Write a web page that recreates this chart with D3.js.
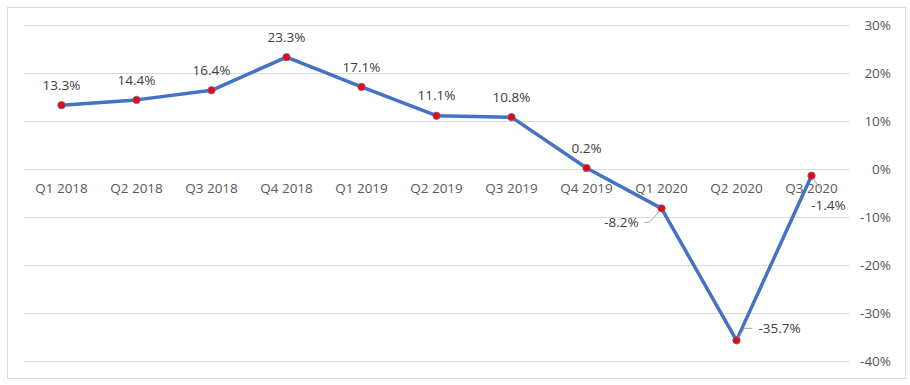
<!DOCTYPE html>
<html>
<head>
<meta charset="utf-8">
<script src="https://cdn.jsdelivr.net/npm/d3@7"></script>
<style>
  body { margin: 0; background: #fff; }
  svg { display: block; }
  text { font-family: "Open Sans", "Noto Sans", sans-serif; }
</style>
</head>
<body>
<svg id="chart" width="910" height="385"></svg>
<script>
const categories = ["Q1 2018","Q2 2018","Q3 2018","Q4 2018","Q1 2019","Q2 2019","Q3 2019","Q4 2019","Q1 2020","Q2 2020","Q3 2020"];
const values = [13.3, 14.4, 16.4, 23.3, 17.1, 11.1, 10.8, 0.2, -8.2, -35.7, -1.4];
const yTicks = [30, 20, 10, 0, -10, -20, -30, -40];

const svg = d3.select("#chart");
const FONT = '"Open Sans", "Noto Sans", sans-serif';
const FS = "13.5px";

// outer border
svg.append("rect")
  .attr("x", 7.5).attr("y", 7.5)
  .attr("width", 898).attr("height", 371)
  .attr("fill", "#fff").attr("stroke", "#d9d9d9").attr("stroke-width", 1);

const x = d3.scaleBand().domain(categories).range([24, 849]);
const y = d3.scaleLinear().domain([-40, 30]).range([361, 25]);
const cx = d => x(d) + x.bandwidth() / 2;

// gridlines
svg.append("g").selectAll("line").data(yTicks).join("line")
  .attr("x1", 24).attr("x2", 849)
  .attr("y1", d => Math.round(y(d)) + 0.5).attr("y2", d => Math.round(y(d)) + 0.5)
  .attr("stroke", "#d9d9d9").attr("stroke-width", 1);

// right axis labels
const yAxis = d3.axisRight(y).tickValues(yTicks).tickSize(0).tickFormat(d => d + "%");
const ya = svg.append("g").attr("transform", "translate(891,0)").call(yAxis);
ya.select(".domain").remove();
ya.selectAll("text")
  .attr("x", 0).attr("text-anchor", "end")
  .attr("fill", "#595959").style("font-size", FS)
  .style("font-family", FONT);

// category labels along zero line
const xAxis = d3.axisBottom(x).tickSize(0);
const xa = svg.append("g").attr("transform", `translate(0,${y(0)})`).call(xAxis);
xa.select(".domain").remove();
xa.selectAll("text")
  .attr("y", 0).attr("dy", "1.8em")
  .attr("fill", "#595959").style("font-size", FS)
  .style("font-family", FONT);

// line
const line = d3.line().x((d, i) => cx(categories[i])).y(d => y(d));
svg.append("path").datum(values)
  .attr("d", line).attr("fill", "none")
  .attr("stroke", "#4472C4").attr("stroke-width", 3.5)
  .attr("stroke-linejoin", "round").attr("stroke-linecap", "round");

// markers
svg.append("g").selectAll("circle").data(values).join("circle")
  .attr("cx", (d, i) => cx(categories[i])).attr("cy", d => y(d))
  .attr("r", 3.7).attr("fill", "#FF0000")
  .attr("stroke", "#4472C4").attr("stroke-width", 0.8);

// data labels
const offsets = values.map((v, i) => {
  if (i === 8) return { dx: -40, dy: 14 };   // -8.2%
  if (i === 9) return { dx: 43, dy: -12 };   // -35.7%
  if (i === 10) return { dx: 17, dy: 30 };   // -1.4%
  return { dx: 0, dy: -20 };
});

svg.append("g").selectAll("text").data(values).join("text")
  .attr("x", (d, i) => cx(categories[i]) + offsets[i].dx)
  .attr("y", (d, i) => y(d) + offsets[i].dy)
  .attr("dy", "0.35em")
  .attr("text-anchor", "middle")
  .attr("fill", "#404040").style("font-size", FS)
  .text(d => d.toFixed(1) + "%");

// leader lines
const leaders = [
  { i: 8, pts: (px, py) => [[px - 2, py + 3], [px - 12, py + 14], [px - 17, py + 14]] },
  { i: 9, pts: (px, py) => [[px + 2, py - 3], [px + 8, py - 12], [px + 16, py - 12]] },
  { i: 10, pts: (px, py) => [[px + 2, py + 3], [px + 8, py + 12]] }
];
leaders.forEach(l => {
  const px = cx(categories[l.i]), py = y(values[l.i]);
  svg.append("path")
    .attr("d", d3.line()(l.pts(px, py)))
    .attr("fill", "none").attr("stroke", "#a6a6a6").attr("stroke-width", 1);
});
</script>
</body>
</html>
